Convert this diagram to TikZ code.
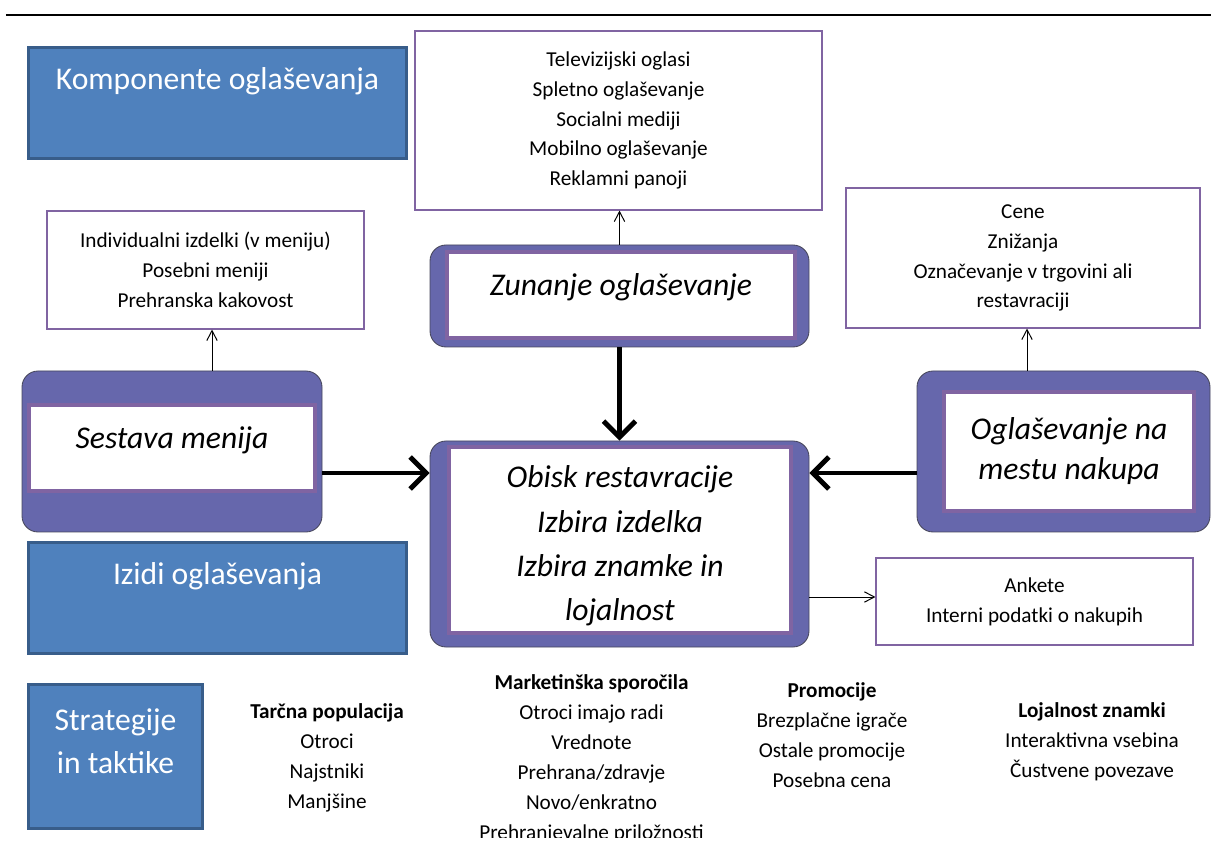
\documentclass[tikz,border=0pt]{standalone}
\usepackage{fontspec}
\setmainfont{Carlito}
\usetikzlibrary{positioning, arrows.meta}
\definecolor{boxblue}{RGB}{79,129,189}
\definecolor{boxblueline}{RGB}{56,93,138}
\definecolor{boxviolet}{RGB}{102,103,172}
\definecolor{frameviolet}{RGB}{128,100,162}
\definecolor{outlinegray}{RGB}{70,70,90}

\begin{document}
\begin{tikzpicture}[
    listbox/.style={draw=frameviolet, line width=0.8pt, fill=white, align=center,
      font=\fontsize{15.1}{21.3}\selectfont, inner sep=0pt},
    headbox/.style={draw=boxblueline, line width=2pt, fill=boxblue, inner sep=0pt},
    headtext/.style={text=white, font=\fontsize{22.5}{30.6}\selectfont, align=center, inner sep=0pt},
    outerbox/.style={draw=outlinegray, line width=0.6pt, fill=boxviolet, rounded corners=4mm, inner sep=0pt},
    innerbox/.style={draw=frameviolet, line width=3pt, fill=white, inner sep=0pt},
    bigtext/.style={font=\fontsize{22.5}{31.5}\selectfont\itshape, align=center, inner sep=0pt},
    coltext/.style={font=\fontsize{15.1}{21.3}\selectfont, align=center, inner sep=0pt},
    fatarrow/.style={line width=3.5pt, -{Straight Barb[length=4mm, width=8mm]}},
    thinarrow/.style={line width=0.7pt, -{Straight Barb[length=2.5mm, width=2.6mm]}}
  ]
  \useasboundingbox (0,0) rectangle (30.275,21.35);
  \draw[line width=1.4pt] (0.15,20.975) -- (30.275,20.975);

  % modri okvirji
  \node[headbox, minimum width=9.45cm, minimum height=2.775cm] (komp) at (5.4375,18.775) {};
  \node[headtext, below=0.52cm of komp.north] (kompT) {Komponente oglaševanja};
  \node[headbox, minimum width=9.45cm, minimum height=2.775cm] (izidi) at (5.4375,6.4) {};
  \node[headtext, below=0.52cm of izidi.north] (izidiT) {Izidi oglaševanja};
  \node[headbox, minimum width=4.35cm, minimum height=3.6cm] (strat) at (2.8875,2.4375) {};
  \node[headtext, below=0.635cm of strat.north] (stratT) {Strategije\\in taktike};

  % seznami
  \node[listbox, minimum width=10.175cm, minimum height=4.475cm] (tv) at (15.4625,18.3375)
    {Televizijski oglasi\\Spletno oglaševanje\\Socialni mediji\\Mobilno oglaševanje\\Reklamni panoji};
  \node[listbox, minimum width=7.925cm, minimum height=2.95cm] (menu) at (5.1375,14.6)
    {Individualni izdelki (v meniju)\\Posebni meniji\\Prehranska kakovost};
  \node[listbox, minimum width=8.85cm, minimum height=3.5cm] (cene) at (25.575,14.9)
    {Cene\\Znižanja\\Označevanje v trgovini ali\\restavraciji};
  \node[listbox, minimum width=7.925cm, minimum height=2.175cm] (ank) at (25.8625,6.3125)
    {Ankete\\Interni podatki o nakupih};

  % vijolicni okvirji
  \node[outerbox, minimum width=7.5cm, minimum height=4.025cm] (sest) at (4.3,10.0625) {};
  \node[innerbox, minimum width=7.15cm, minimum height=2.15cm] (sestIn) at (4.3,10.15) {};
  \node[bigtext] (sestT) at (4.3,10.35) {Sestava menija};

  \node[outerbox, minimum width=9.475cm, minimum height=2.55cm] (zun) at (15.4875,13.95) {};
  \node[innerbox, minimum width=8.7cm, minimum height=2.15cm] (zunIn) at (15.525,13.975) {};
  \node[bigtext] (zunT) at (15.525,14.1625) {Zunanje oglaševanje};

  \node[outerbox, minimum width=9.475cm, minimum height=5.15cm] (main) at (15.4875,7.75) {};
  \node[innerbox, minimum width=8.55cm, minimum height=4.65cm] (mainIn) at (15.5,7.85) {};
  \node[bigtext] (mainT) at (15.5,7.7)
    {Obisk restavracije\\Izbira izdelka\\Izbira znamke in\\lojalnost};

  \node[outerbox, minimum width=7.325cm, minimum height=4.025cm] (pos) at (26.5875,10.0625) {};
  \node[innerbox, minimum width=6.25cm, minimum height=2.975cm] (posIn) at (26.725,10.0625) {};
  \node[bigtext, font=\fontsize{22.5}{29}\selectfont\itshape] (posT) at (26.725,10.075)
    {Oglaševanje na\\mestu nakupa};

  % puscice
  \draw[fatarrow] ([yshift=-0.5375cm]sest.east) -- ([yshift=-0.5375cm]sest.east -| main.west);
  \draw[fatarrow] ([yshift=-0.5375cm]pos.west) -- ([yshift=-0.5375cm]pos.west -| main.east);
  \draw[fatarrow] (zun.south) -- (main.north);
  \draw[thinarrow] (zun.north) -- (zun.north |- tv.south);
  \draw[thinarrow] ([xshift=1cm]sest.north) -- ([xshift=1cm]sest.north |- menu.south);
  \draw[thinarrow] ([xshift=-0.9125cm]pos.north) -- ([xshift=-0.9125cm]pos.north |- cene.south);
  \draw[thinarrow] ([yshift=-1.325cm]main.east) -- ([yshift=-1.325cm]main.east -| ank.west);

  % stolpci spodaj
  \begin{scope}
    \clip (0,0.425) rectangle (30.275,21.35);
    \node[coltext] (tarc) at (8.175,2.4125)
      {\textbf{Tarčna populacija}\\Otroci\\Najstniki\\Manjšine};
    \node[coltext] (mark) at (14.7875,2.3875)
      {\textbf{Marketinška sporočila}\\Otroci imajo radi\\Vrednote\\Prehrana/zdravje\\Novo/enkratno\\Prehranjevalne priložnosti};
    \node[coltext] (prom) at (20.8,2.9625)
      {\textbf{Promocije}\\Brezplačne igrače\\Ostale promocije\\Posebna cena};
    \node[coltext] (loj) at (27.3,2.8125)
      {\textbf{Lojalnost znamki}\\Interaktivna vsebina\\Čustvene povezave};
  \end{scope}
\end{tikzpicture}
\end{document}
